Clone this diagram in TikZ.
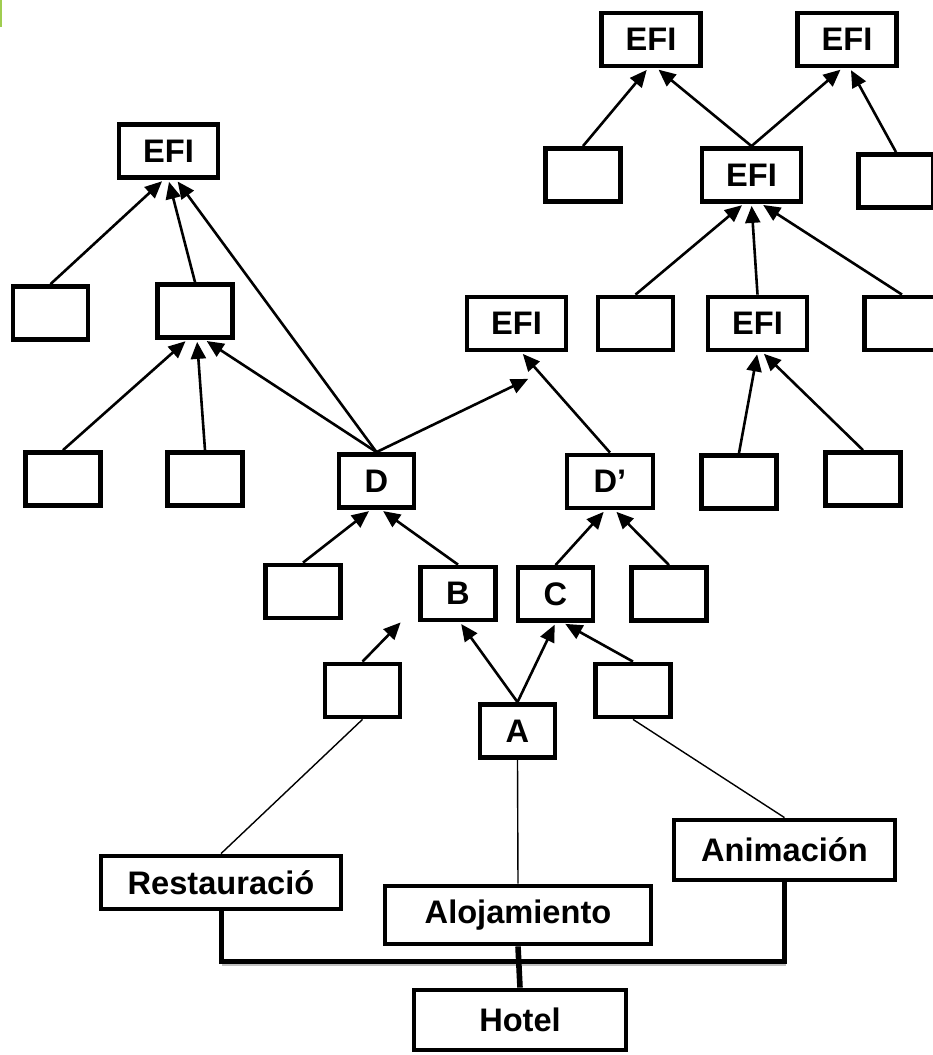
\documentclass[tikz,border=0pt]{standalone}
\usepackage{fontspec}
\setmainfont{Liberation Sans}
\usetikzlibrary{arrows.meta,calc}
\definecolor{leafgreen}{RGB}{160,205,80}
\begin{document}
\begin{tikzpicture}[x=0.5pt,y=-0.5pt]

        % Styles
        \tikzstyle{item box}=[draw,rectangle,line width=2.4pt,inner sep=0pt,font=\fontsize{16.3}{18}\selectfont\bfseries]
        \tikzstyle{blank box}=[item box,minimum width=37.5pt,minimum height=26.5pt]
        \tikzstyle{efi box}=[item box,minimum width=49.5pt,minimum height=26.5pt]
        \tikzstyle{arrow link}=[line width=1.3pt,-{Triangle[length=8.5pt,width=7.5pt]},shorten >=1pt]
        \tikzstyle{thin link}=[line width=0.7pt]
        \tikzstyle{bus line}=[line width=2.5pt]
        %The graphic
        \useasboundingbox (0,0) rectangle (932,1055);
        \fill[leafgreen] (0,0) rectangle (2,27);
        %EFI boxes
        \foreach \name/\x/\y in {efiL/168.5/151, efiM/516.5/323.5, efiR2/757.5/323.5,
            efiT1/651/39.5, efiT2/847/39.5, efiC/751.5/175}
            \node[efi box] (\name) at (\x,\y) {EFI};
        %empty boxes
        \foreach \name/\x/\y in {eL1/50.5/313, eL2/195/311, eL3/63/479, eL4/205/479,
            eM2/635.5/323.5, eR3/902/323.5, eR4/739/482, eR5/863/479,
            eT1/583/175, eT2/896/181, eB/303/591.5, eC/669/594,
            eA/362.5/690.5, eA2/633/690.5}
            \node[blank box] (\name) at (\x,\y) {};
        %letter boxes
        \node[blank box] (D) at (376.5,481) {D};
        \node[blank box,minimum width=43pt] (Dp) at (610,481.5) {D’};
        \node[blank box] (B) at (458,593.5) {B};
        \node[blank box] (C) at (555.5,594) {C};
        \node[blank box] (A) at (517.5,731) {A};
        %hotel
        \node[item box,minimum width=120pt,minimum height=26.5pt] (resta) at (221,882.5) {Restauració};
        \node[item box,minimum width=133pt,minimum height=29pt] (aloj) at (518,915) {Alojamiento};
        \node[item box,minimum width=110.5pt,minimum height=30pt] (anim) at (784.5,850) {Animación};
        \node[item box,minimum width=106pt,minimum height=30pt] (hotel) at (520,1020) {Hotel};
        \coordinate (bus) at (518,961);
        \coordinate (tipA) at (402,621);
        \coordinate (tipD) at (530,378);
        %arrows
        \foreach \from/\to/\dx in {eL1/efiL/-5, eL2/efiL/0, D/efiL/8, eL3/eL2/-8, eL4/eL2/2, D/eL2/10,
            Dp/efiM/5, eR4/efiR2/0, eR5/efiR2/5, eT1/efiT1/-3, efiC/efiT1/6, efiC/efiT2/-5,
            eT2/efiT2/3, eM2/efiC/-8, efiR2/efiC/0, eR3/efiC/10, eB/D/-6, B/D/5,
            C/Dp/-5, eC/Dp/5, A/B/2, A/C/0, eA2/C/8}
            \draw[arrow link] (\from.north) -- ($(\to.south)+(\dx,0)$);
        \draw[arrow link] (eA.north) -- (tipA);
        \draw[arrow link] (D.north) -- (tipD);
        \draw[thin link] (resta.north) -- (eA.south);
        \draw[thin link] (aloj.north) -- (A.south);
        \draw[thin link] (anim.north) -- (eA2.south);
        %bus
        \draw[gray!50,line width=1.2pt] ($(resta.south|-bus)+(1,3.5)$) -- ($(anim.south|-bus)+(1,3.5)$);
        \draw[bus line] (resta.south) |- (bus) -| (anim.south);
        \draw[line width=2.8pt] (aloj.south) -- (hotel.north);
\end{tikzpicture}
\end{document}
